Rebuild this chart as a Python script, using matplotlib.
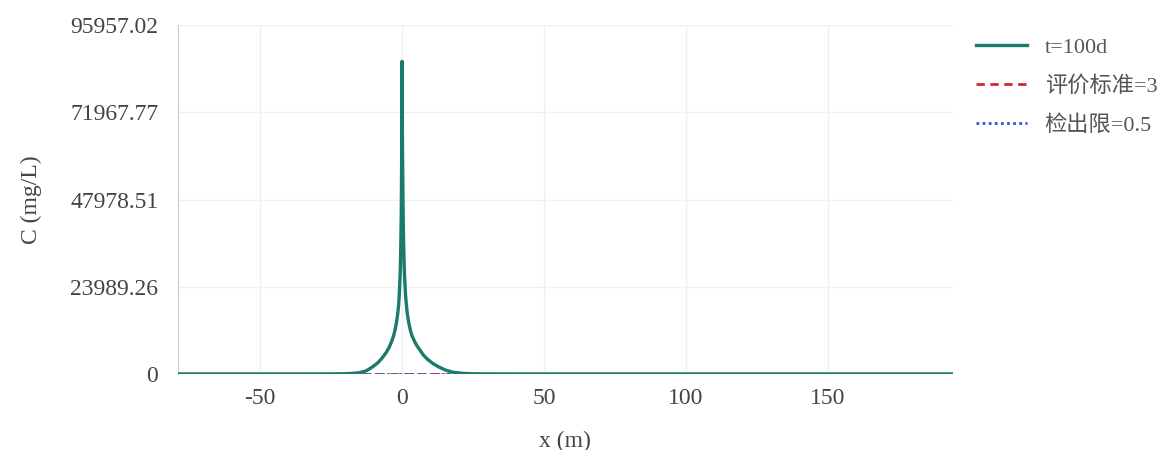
import numpy as np
import matplotlib
matplotlib.use("Agg")
import matplotlib.pyplot as plt

plt.rcParams['font.family'] = ['Liberation Serif', 'Noto Sans CJK SC', 'DejaVu Sans']
plt.rcParams['axes.unicode_minus'] = False

# concentration profile (x in m, C in mg/L)
x_vals = [-79, -40, -30, -25, -20, -17, -15, -12.5, -10.5, -8.5, -7, -5.5, -4.5,
          -3.5, -3, -2.5, -2, -1.5, -1.2, -1, -0.8, -0.6, -0.5, -0.4, -0.3, -0.25,
          -0.15, -0.1, -0.05, 0, 0.05, 0.08, 0.15, 0.2, 0.3, 0.35, 0.5, 0.7, 0.85,
          1, 1.2, 1.4, 1.8, 2.2, 2.5, 3, 3.5, 4.5, 5.2, 6, 7.5, 9, 11, 13, 15.5,
          18, 21, 25, 30, 40, 194]
c_vals = [0, 0, 0, 15, 60, 170, 330, 900, 1900, 3100, 4400, 6000, 7400,
          9300, 10500, 12000, 14000, 16800, 19000, 21500, 25000, 29000, 33000,
          38000, 43000, 48000, 58000, 64000, 72000, 86000, 78000, 72000, 62000,
          58000, 50000, 46000, 38000, 31000, 27500, 25000, 22000, 20000, 16800,
          14800, 13500, 11800, 10500, 8800, 7800, 6900, 5200, 4000, 2800, 1900,
          1000, 450, 170, 50, 10, 0, 0]

std_value = 3
det_value = 0.5
limit_x = [-14, 17]

y_max = 95957.02
y_ticks = [0, 23989.26, 47978.51, 71967.77, 95957.02]
y_tick_labels = ["0", "23989.26", "47978.51", "71967.77", "95957.02"]
x_ticks = [-50, 0, 50, 100, 150]

fig = plt.figure(figsize=(11.62, 4.5), dpi=100)
ax = fig.add_axes([0.153, 0.169, 0.667, 0.775])

ax.plot(x_vals, c_vals, color="#1a7a6c", lw=2.4, label="t=100d", zorder=3)
ax.plot(limit_x, [std_value, std_value], color="#d62728", lw=2, ls=(0, (3, 2)),
        label="评价标准=3", zorder=4)
ax.plot(limit_x, [det_value, det_value], color="#2a5bd7", lw=2, ls=(0, (1, 1.2)),
        label="检出限=0.5", zorder=4)

ax.set_xlim(x_vals[0], x_vals[-1])
ax.set_ylim(0, y_max)
ax.set_yticks(y_ticks)
ax.set_yticklabels(y_tick_labels)
ax.set_xticks(x_ticks)
ax.grid(True, color="#eef0f2", lw=1)
ax.set_axisbelow(True)
ax.tick_params(length=0, labelsize=17, labelcolor="#444444")
ax.tick_params(axis="y", pad=14)
ax.tick_params(axis="x", pad=10)
for s in ["top", "right", "bottom"]:
    ax.spines[s].set_visible(False)
ax.spines["left"].set_color("#c8ccd0")

ax.set_xlabel("x (m)", fontsize=17, color="#444444", labelpad=16)
ax.set_ylabel("C (mg/L)", fontsize=17, color="#444444", labelpad=20)

fig.legend(loc="upper left", bbox_to_anchor=(0.8225, 0.962), frameon=False,
           fontsize=16, labelcolor="#555555", handlelength=2.3, handletextpad=0.8,
           labelspacing=0.83)

fig.savefig("out.png")
